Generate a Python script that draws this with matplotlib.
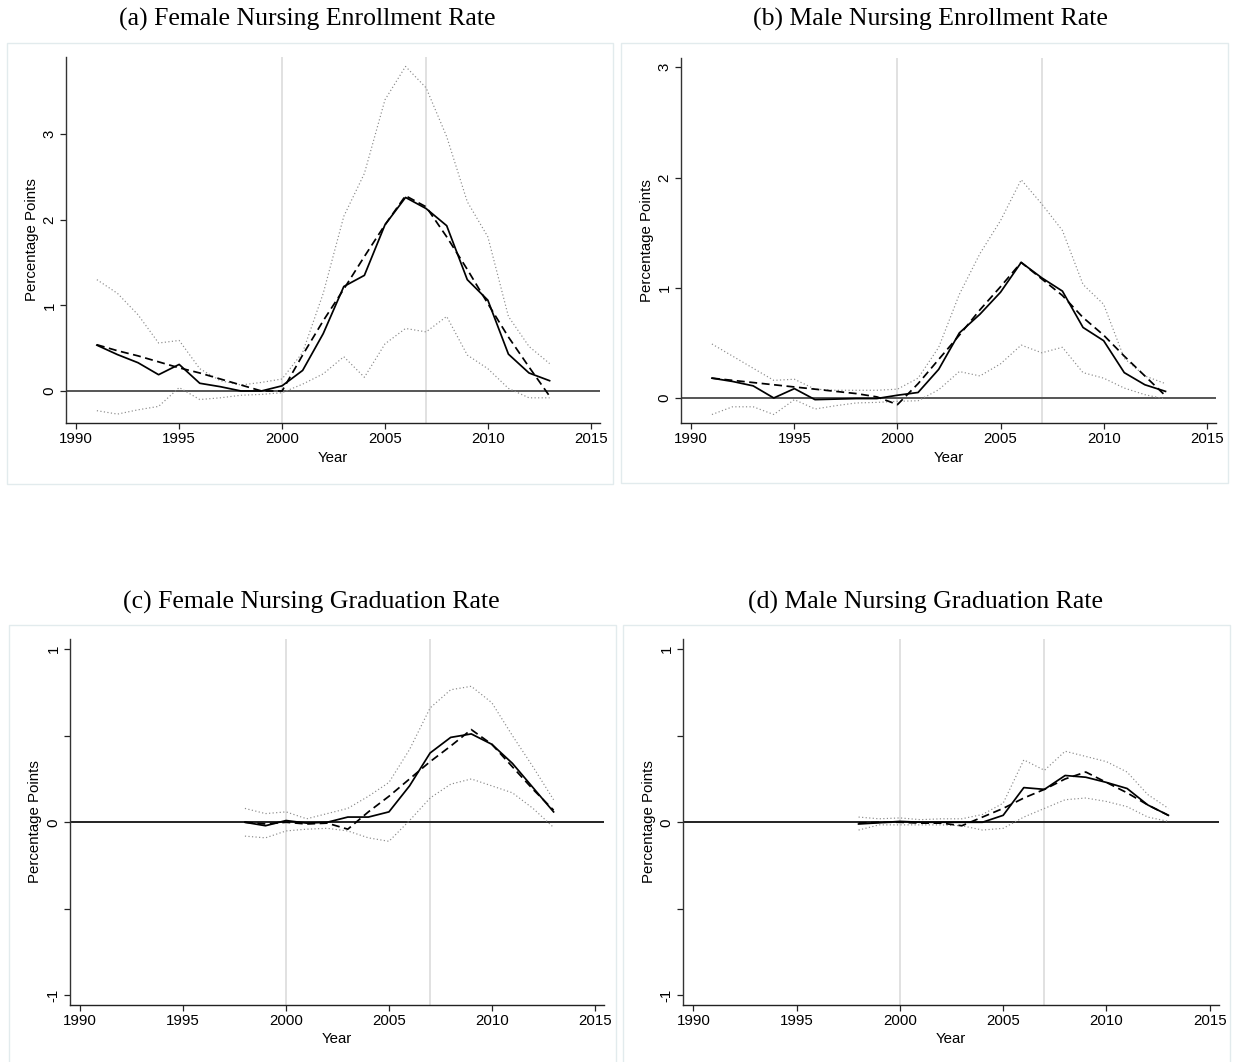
import matplotlib
matplotlib.use("Agg")
import matplotlib.pyplot as plt
from matplotlib.patches import Rectangle

W, H = 1233, 1062

# ---- data -------------------------------------------------------------
years_enr = list(range(1991, 2014))
years_grad = list(range(1998, 2014))

# (a) female enrollment
fem_enr_est = [0.535, 0.425, 0.33, 0.19, 0.31, 0.09, 0.05, 0.0, 0.0, 0.06, 0.24, 0.67,
               1.22, 1.35, 1.94, 2.26, 2.13, 1.93, 1.30, 1.06, 0.43, 0.21, 0.12]
fem_enr_fit = [0.54, 0.47, 0.41, 0.34, 0.27, 0.21, 0.14, 0.07, 0.0, 0.0, 0.42, 0.82,
               1.19, 1.57, 1.94, 2.28, 2.15, 1.80, 1.42, 1.02, 0.63, 0.28, -0.06]
fem_enr_hi = [1.30, 1.14, 0.89, 0.56, 0.59, 0.26, 0.12, 0.07, 0.10, 0.14, 0.45, 1.14,
              2.04, 2.54, 3.40, 3.79, 3.54, 2.97, 2.21, 1.80, 0.87, 0.52, 0.32]
fem_enr_lo = [-0.23, -0.27, -0.22, -0.18, 0.04, -0.10, -0.08, -0.05, -0.04, -0.02, 0.08, 0.20,
              0.40, 0.16, 0.55, 0.73, 0.69, 0.87, 0.42, 0.26, 0.03, -0.08, -0.08]

# (b) male enrollment
male_enr_est = [0.18, 0.15, 0.11, 0.0, 0.085, -0.015, -0.01, -0.005, -0.005, 0.025, 0.05, 0.26,
                0.59, 0.76, 0.96, 1.23, 1.09, 0.97, 0.64, 0.52, 0.23, 0.12, 0.06]
male_enr_fit = [0.18, 0.16, 0.14, 0.12, 0.10, 0.08, 0.06, 0.04, 0.01, -0.06, 0.13, 0.35,
                0.57, 0.80, 1.01, 1.23, 1.08, 0.93, 0.73, 0.57, 0.38, 0.20, 0.02]
male_enr_hi = [0.49, 0.38, 0.27, 0.16, 0.17, 0.08, 0.07, 0.07, 0.07, 0.08, 0.18, 0.46,
               0.94, 1.31, 1.61, 1.98, 1.76, 1.52, 1.03, 0.85, 0.36, 0.20, 0.13]
male_enr_lo = [-0.15, -0.08, -0.08, -0.15, -0.015, -0.10, -0.07, -0.045, -0.04, -0.03, -0.025, 0.075,
               0.24, 0.20, 0.31, 0.48, 0.41, 0.46, 0.23, 0.18, 0.09, 0.03, -0.01]

# (c) female graduation
fem_grad_est = [0.0, -0.02, 0.01, -0.005, 0.0, 0.03, 0.03, 0.06, 0.21, 0.40, 0.49, 0.51,
                0.45, 0.34, 0.20, 0.06]
fem_grad_fit = [0.0, -0.01, 0.0, -0.01, -0.005, -0.04, 0.06, 0.15, 0.25, 0.35, 0.44, 0.535,
                0.45, 0.32, 0.19, 0.07]
fem_grad_hi = [0.08, 0.05, 0.06, 0.02, 0.05, 0.08, 0.15, 0.23, 0.42, 0.66, 0.765, 0.785,
               0.69, 0.50, 0.32, 0.13]
fem_grad_lo = [-0.08, -0.09, -0.05, -0.04, -0.035, -0.05, -0.09, -0.11, 0.01, 0.14, 0.22, 0.25,
               0.21, 0.17, 0.08, -0.03]

# (d) male graduation
male_grad_est = [-0.01, -0.003, 0.005, 0.0, 0.0, 0.0, 0.0, 0.04, 0.20, 0.19, 0.27, 0.26,
                 0.23, 0.195, 0.10, 0.04]
male_grad_fit = [-0.005, 0.0, 0.0, -0.005, -0.005, -0.02, 0.03, 0.08, 0.14, 0.19, 0.25, 0.29,
                 0.23, 0.17, 0.10, 0.04]
male_grad_hi = [0.03, 0.02, 0.025, 0.015, 0.02, 0.02, 0.045, 0.11, 0.36, 0.30, 0.41, 0.38,
                0.35, 0.29, 0.16, 0.08]
male_grad_lo = [-0.045, -0.015, -0.015, -0.015, -0.015, -0.02, -0.045, -0.035, 0.03, 0.08, 0.13, 0.14,
                0.12, 0.09, 0.03, 0.005]

titles = ["(a) Female Nursing Enrollment Rate", "(b) Male Nursing Enrollment Rate",
          "(c) Female Nursing Graduation Rate", "(d) Male Nursing Graduation Rate"]
x_ticks = [1990, 1995, 2000, 2005, 2010, 2015]
event_years = [2000, 2007]

# ---- figure -----------------------------------------------------------
fig = plt.figure(figsize=(W / 100, H / 100), dpi=100)
fig.patch.set_facecolor("white")

def px_rect(l, t, r, b):
    return [l / W, 1 - b / H, (r - l) / W, (b - t) / H]

sans = ["Liberation Sans", "DejaVu Sans"]
serif = ["Liberation Serif", "DejaVu Serif"]

panels = [
    dict(ax=(66, 57, 600, 423), frame=(7, 43, 613, 484), title=(307, 19),
         years=years_enr, est=fem_enr_est, fit=fem_enr_fit, hi=fem_enr_hi, lo=fem_enr_lo,
         ylim=(-0.374, 3.90), yticks=[0, 1, 2, 3], ylabels=["0", "1", "2", "3"],
         zero="#555555", ylab_x=32, xlab_y=458),
    dict(ax=(681, 58, 1216, 423), frame=(621, 43, 1228, 483), title=(930, 19),
         years=years_enr, est=male_enr_est, fit=male_enr_fit, hi=male_enr_hi, lo=male_enr_lo,
         ylim=(-0.227, 3.085), yticks=[0, 1, 2, 3], ylabels=["0", "1", "2", "3"],
         zero="#555555", ylab_x=647, xlab_y=458),
    dict(ax=(70, 639, 604, 1005), frame=(9, 625, 616, 1075), title=(311, 602),
         years=years_grad, est=fem_grad_est, fit=fem_grad_fit, hi=fem_grad_hi, lo=fem_grad_lo,
         ylim=(-1.055, 1.058), yticks=[-1, -0.5, 0, 0.5, 1], ylabels=["-1", "", "0", "", "1"],
         zero="#222222", ylab_x=35, xlab_y=1039),
    dict(ax=(683, 639, 1219, 1005), frame=(623, 625, 1230, 1075), title=(925, 602),
         years=years_grad, est=male_grad_est, fit=male_grad_fit, hi=male_grad_hi, lo=male_grad_lo,
         ylim=(-1.055, 1.058), yticks=[-1, -0.5, 0, 0.5, 1], ylabels=["-1", "", "0", "", "1"],
         zero="#222222", ylab_x=649, xlab_y=1039),
]

for p, title in zip(panels, titles):
    fl, ft, fr, fb = p["frame"]
    fig.patches.append(Rectangle((fl / W, 1 - fb / H), (fr - fl) / W, (fb - ft) / H,
                                 transform=fig.transFigure, fill=False,
                                 edgecolor="#e2ebed", linewidth=1.0, zorder=0))
    fig.text(p["title"][0] / W, 1 - p["title"][1] / H, title, ha="center", va="center",
             family=serif, fontsize=18.5, color="black")

    l, t, r, b = p["ax"]
    ax = fig.add_axes(px_rect(l, t, r, b))
    ax.set_facecolor("none")
    ax.set_xlim(1989.5, 2015.45)
    ax.set_ylim(*p["ylim"])

    for yr in event_years:
        ax.axvline(yr, color="#d8d8d8", linewidth=1.1, zorder=1)
    ax.axhline(0, color=p["zero"], linewidth=1.4, zorder=2)

    yrs = p["years"]
    ax.plot(yrs, p["hi"], color="#8a8a8a", linewidth=0.85, linestyle=(0, (1, 2)), zorder=3)
    ax.plot(yrs, p["lo"], color="#8a8a8a", linewidth=0.85, linestyle=(0, (1, 2)), zorder=3)
    ax.plot(yrs, p["fit"], color="black", linewidth=1.25, linestyle=(0, (4.6, 2.6)), zorder=4)
    ax.plot(yrs, p["est"], color="black", linewidth=1.25, zorder=5)

    for side in ("top", "right"):
        ax.spines[side].set_visible(False)
    ax.spines["left"].set_color("#333333")
    ax.spines["bottom"].set_color("#222222")
    ax.spines["left"].set_linewidth(1.0)
    ax.spines["bottom"].set_linewidth(1.0)

    ax.set_xticks(x_ticks)
    ax.set_xticklabels([str(v) for v in x_ticks], family=sans, fontsize=10.8)
    ax.set_yticks(p["yticks"])
    ax.set_yticklabels(p["ylabels"], family=sans, fontsize=10.8, rotation=90,
                       va="center")
    ax.tick_params(axis="both", direction="out", length=4.3, width=0.9,
                   color="#222222", pad=2.5)

    ax.set_xlabel("Year", family=sans, fontsize=10.8, va="center")
    ax.xaxis.set_label_coords(0.5, -(p["xlab_y"] - b) / (b - t))
    ax.set_ylabel("Percentage Points", family=sans, fontsize=10.8, va="center")
    ax.yaxis.set_label_coords((p["ylab_x"] - l) / (r - l), 0.5)

fig.savefig("out.png", dpi=100, facecolor="white")
